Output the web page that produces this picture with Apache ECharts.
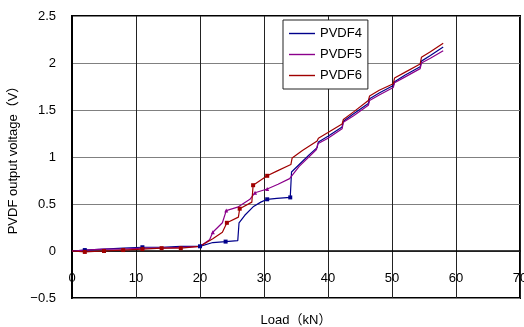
<!DOCTYPE html>
<html>
<head>
<meta charset="utf-8">
<script src="https://cdn.jsdelivr.net/npm/echarts@6/dist/echarts.min.js"></script>
<style>
  html, body { margin: 0; padding: 0; background: #fff; }
  #main { width: 524px; height: 327px; }
</style>
</head>
<body>
<div id="main"></div>
<script>
// load (kN) and output voltage (V)
const load4 = [0, 2, 5, 8, 11, 14, 17, 20, 22, 24, 25.9, 26.1, 27, 28.3, 29.5, 30.5, 32, 34.1, 34.3, 35.5, 37, 38.3, 38.5, 40, 42.2, 42.4, 44, 46.3, 46.5, 48, 50.2, 50.4, 52, 54.4, 54.6, 56, 58];
const volt4 = [0, 0.01, 0.02, 0.03, 0.04, 0.04, 0.05, 0.05, 0.09, 0.1, 0.11, 0.3, 0.38, 0.47, 0.52, 0.55, 0.56, 0.57, 0.84, 0.92, 1.02, 1.1, 1.16, 1.22, 1.32, 1.38, 1.46, 1.57, 1.62, 1.68, 1.76, 1.8, 1.87, 1.96, 2.02, 2.08, 2.17];

const load5 = [0, 2, 5, 8, 11, 14, 17, 20, 21.5, 22, 23.5, 24.1, 26, 27.8, 28.6, 30.5, 32.2, 34, 35.5, 37, 38.2, 38.4, 40, 42.2, 42.4, 44, 46.3, 46.5, 48, 50.2, 50.4, 52, 54.4, 54.6, 56, 58];
const volt5 = [0, 0.01, 0.02, 0.02, 0.03, 0.03, 0.04, 0.05, 0.12, 0.2, 0.3, 0.43, 0.47, 0.55, 0.62, 0.66, 0.71, 0.77, 0.9, 1.0, 1.08, 1.14, 1.2, 1.3, 1.37, 1.44, 1.55, 1.6, 1.66, 1.74, 1.79, 1.85, 1.94, 2.0, 2.05, 2.13];

const load6 = [0, 2, 5, 8, 11, 14, 17, 20, 22, 23.5, 24.2, 26, 26.2, 28.1, 28.3, 30.5, 32, 34.2, 34.4, 36, 38.3, 38.5, 40, 42.2, 42.4, 44, 46.3, 46.5, 48, 50.2, 50.4, 52, 54.4, 54.6, 56, 58];
const volt6 = [0, -0.01, 0, 0.01, 0.02, 0.03, 0.03, 0.05, 0.13, 0.2, 0.3, 0.36, 0.45, 0.52, 0.7, 0.8, 0.85, 0.92, 0.99, 1.07, 1.17, 1.2, 1.26, 1.35, 1.4, 1.48, 1.6, 1.65, 1.71, 1.78, 1.84, 1.9, 1.99, 2.06, 2.12, 2.21];

// indices of points that carry a marker
const marks4 = [1, 4, 7, 9, 15, 17];
const marks5 = [9, 11, 14, 15];
const marks6 = [1, 2, 3, 4, 5, 6, 10, 12, 14, 15];

const seriesNames = ["PVDF4", "PVDF5", "PVDF6"];

function build(xs, ys, marks, sym) {
  return xs.map((x, i) => {
    const item = { value: [x, ys[i]] };
    if (marks.indexOf(i) >= 0) {
      item.symbol = sym;
      item.symbolSize = 4;
    }
    return item;
  });
}

const chart = echarts.init(document.getElementById("main"));
const font = "'Liberation Sans', 'Noto Sans CJK JP', sans-serif";

chart.setOption({
  animation: false,
  textStyle: { fontFamily: font },
  grid: {
    left: 72, right: 4, top: 16, bottom: 29,
    outerBoundsMode: "none",
    containLabel: false,
    show: true, borderColor: "#000", borderWidth: 2
  },
  legend: {
    orient: "vertical",
    left: 283, top: 20,
    padding: [7, 6, 7, 6],
    itemGap: 8,
    itemWidth: 26, itemHeight: 14,
    icon: "path://M0,6.3H26V7.7H0Z",
    backgroundColor: "#fff",
    borderColor: "#222",
    borderWidth: 1,
    textStyle: { fontSize: 13, color: "#000", fontFamily: font },
    data: seriesNames
  },
  xAxis: {
    type: "value",
    min: 0, max: 70, interval: 10,
    name: "Load（kN）",
    nameLocation: "middle",
    nameGap: 16,
    nameTextStyle: { fontSize: 13, color: "#000", fontFamily: font },
    axisLine: { onZero: true, lineStyle: { color: "#000", width: 1.5 } },
    axisTick: { show: false },
    // labels sit just under the zero line, as in the original
    axisLabel: { margin: -26, fontSize: 13, color: "#000", showMaxLabel: true, showMinLabel: true },
    splitLine: { show: true, lineStyle: { color: "#222", width: 1 } }
  },
  yAxis: {
    type: "value",
    min: -0.5, max: 2.5, interval: 0.5,
    name: "PVDF output voltage（V）",
    nameLocation: "middle",
    nameGap: 46,
    nameTextStyle: { fontSize: 13, color: "#000", fontFamily: font },
    axisLine: { show: true, lineStyle: { color: "#000", width: 2 } },
    axisTick: { show: false },
    axisLabel: {
      margin: 16, fontSize: 13, color: "#000",
      formatter: v => String(v).replace("-", "−")
    },
    splitLine: { show: true, lineStyle: { color: "#808080", width: 1, type: "solid" } }
  },
  series: [
    {
      name: seriesNames[0], type: "line", symbol: "none", showSymbol: true,
      color: "#00008B", lineStyle: { width: 1.2 },
      data: build(load4, volt4, marks4, "rect")
    },
    {
      name: seriesNames[1], type: "line", symbol: "none", showSymbol: true,
      color: "#8B008B", lineStyle: { width: 1.2 },
      data: build(load5, volt5, marks5, "triangle")
    },
    {
      name: seriesNames[2], type: "line", symbol: "none", showSymbol: true,
      color: "#A00000", lineStyle: { width: 1.2 },
      data: build(load6, volt6, marks6, "rect")
    }
  ]
});
</script>
</body>
</html>
